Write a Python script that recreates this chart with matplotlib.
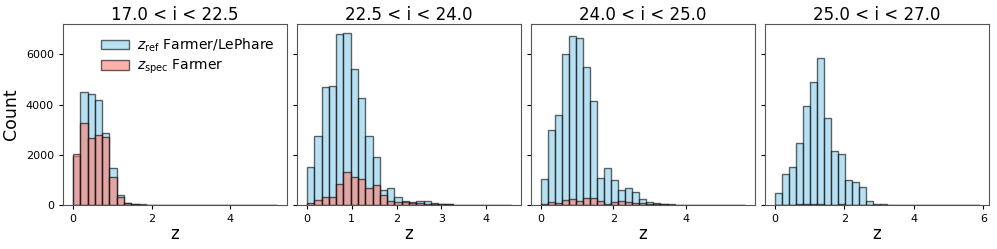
import numpy as np
import matplotlib
matplotlib.use("Agg")
import matplotlib.pyplot as plt
from matplotlib.ticker import MultipleLocator

# magnitude bins, one panel each
titles = ["17.0 < i < 22.5", "22.5 < i < 24.0", "24.0 < i < 25.0", "25.0 < i < 27.0"]
zmax = [5.2, 4.55, 5.62, 5.87]
xstep = [2, 1, 2, 2]

# counts per redshift bin
ref_1 = [1960, 4510, 4440, 4190, 2870, 1470, 390, 95, 40, 20, 10, 8, 5, 4, 3, 2, 2, 1, 1, 1, 1, 1, 1, 1, 1, 1, 1, 1]
spec_1 = [2040, 3270, 2670, 2790, 2710, 1110, 310, 70, 30, 15, 8, 5, 3, 2, 1, 1, 1, 0, 0, 0, 0, 0, 0, 0, 0, 0, 0, 1]

ref_2 = [1520, 2750, 4680, 4730, 6800, 6870, 5400, 4250, 2750, 1920, 580, 680, 330, 170, 110, 145, 145, 65, 40, 25, 10, 6, 4, 3, 3, 2, 2, 2]
spec_2 = [90, 190, 310, 310, 850, 1320, 1120, 1030, 670, 790, 410, 150, 110, 100, 85, 65, 55, 50, 30, 20, 6, 3, 2, 1, 1, 1, 1, 1]

ref_3 = [1030, 2990, 3590, 6030, 6750, 6640, 5510, 4150, 1070, 1490, 1010, 600, 680, 530, 240, 107, 67, 40, 20, 15, 10, 8, 6, 5, 5, 4, 3, 2, 2]
spec_3 = [40, 120, 80, 200, 230, 175, 270, 290, 175, 40, 107, 147, 120, 80, 60, 40, 30, 20, 10, 5, 3, 2, 1, 1, 1, 1, 0, 0, 1]

ref_4 = [490, 1240, 1510, 2480, 3930, 4880, 5870, 3470, 2160, 2030, 990, 910, 710, 150, 40, 20, 15, 10, 8, 6, 6, 5, 4, 4, 4, 3, 3, 10, 3]
spec_4 = [5, 10, 15, 30, 35, 30, 20, 15, 10, 25, 10, 8, 5, 3, 2, 1, 1, 1, 0, 0, 0, 0, 0, 0, 0, 0, 0, 1, 0]

refs = [ref_1, ref_2, ref_3, ref_4]
specs = [spec_1, spec_2, spec_3, spec_4]

fig, axes = plt.subplots(1, 4, figsize=(9.97, 2.49), dpi=100, sharey=True)
fig.subplots_adjust(left=0.063, right=0.992, bottom=0.177, top=0.904, wspace=0.042)

for ax, title, top, step, ref, spec in zip(axes, titles, zmax, xstep, refs, specs):
    edges = np.linspace(0, top, len(ref) + 1)
    centers = 0.5 * (edges[:-1] + edges[1:])
    ax.hist(centers, bins=edges, weights=ref, color="skyblue", alpha=0.6,
            edgecolor="black", linewidth=1.0, label=r"$z_{\rm ref}$ Farmer/LePhare")
    ax.hist(centers, bins=edges, weights=spec, color="salmon", alpha=0.6,
            edgecolor="black", linewidth=1.0, label=r"$z_{\rm spec}$ Farmer")
    ax.set_title(title, fontsize=12, pad=3)
    ax.set_xlabel("z", fontsize=12, labelpad=1)
    ax.xaxis.set_major_locator(MultipleLocator(step))
    ax.yaxis.set_major_locator(MultipleLocator(2000))
    ax.tick_params(labelsize=8, length=3)
    for s in ax.spines.values():
        s.set_color("#555555")

axes[0].set_ylabel("Count", fontsize=12.5)
axes[0].legend(loc="upper right", fontsize=10, frameon=False,
               handlelength=2.0, labelspacing=0.3, handletextpad=0.6)

plt.savefig("out.png", dpi=100)
